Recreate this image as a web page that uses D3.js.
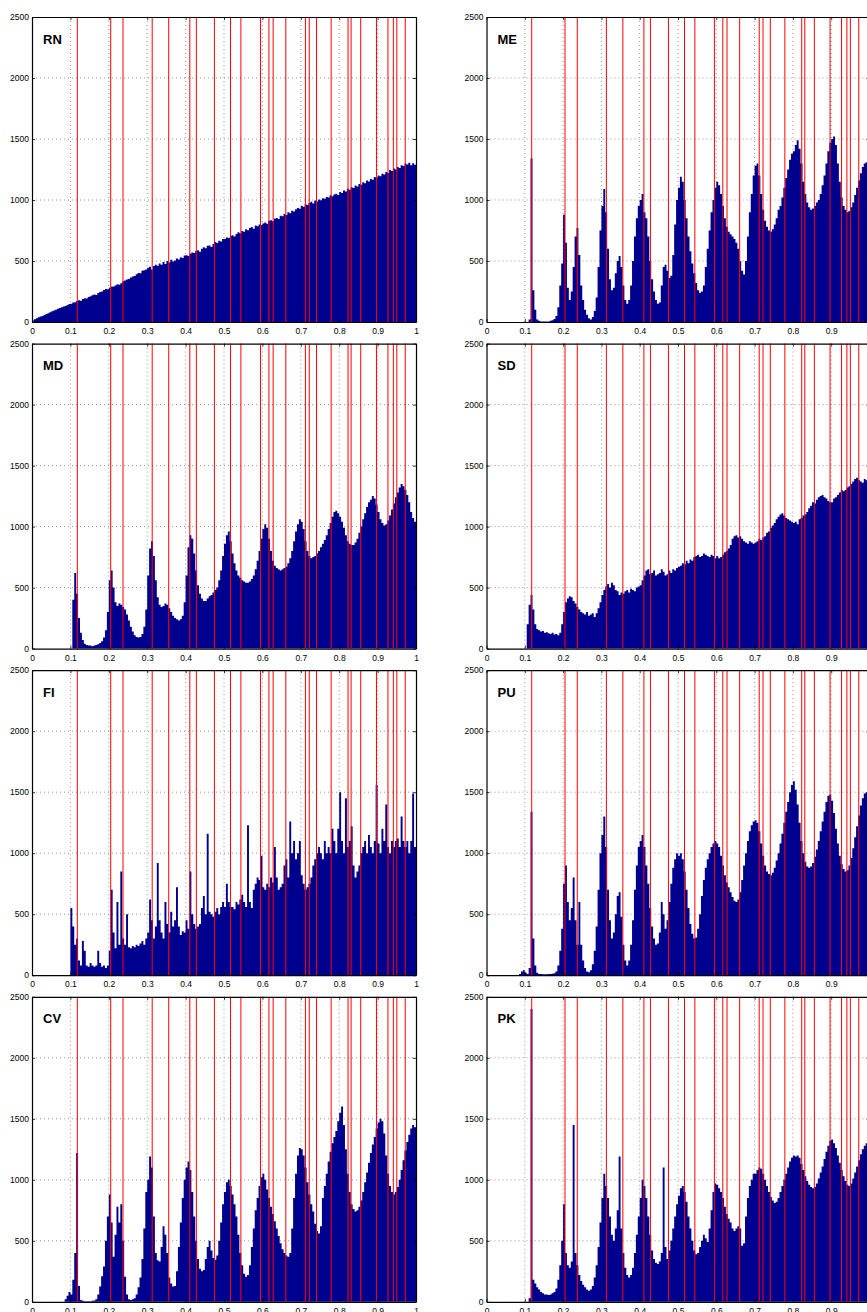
<!DOCTYPE html>
<html>
<head>
<meta charset="utf-8">
<script src="https://cdn.jsdelivr.net/npm/d3@7"></script>
<style>
  body { margin: 0; background: #fff; }
  svg { display: block; }
</style>
</head>
<body>
<div id="chart"></div>
<script>
// histogram bins: each count covers [i * binWidth, (i + 1) * binWidth), 20 bins per row below
const binWidth = 0.005;

const panelNames = ['RN', 'ME', 'MD', 'SD', 'FI', 'PU', 'CV', 'PK'];

// reference marks drawn in red on every panel
const redLines = [0.118, 0.205, 0.237, 0.313, 0.356, 0.411, 0.428, 0.475, 0.517, 0.544,
  0.595, 0.617, 0.628, 0.661, 0.712, 0.722, 0.741, 0.779, 0.823, 0.831,
  0.856, 0.897, 0.927, 0.941, 0.950, 0.972];

const xTicks = [0, 0.1, 0.2, 0.3, 0.4, 0.5, 0.6, 0.7, 0.8, 0.9, 1];
const yTicks = [0, 500, 1000, 1500, 2000, 2500];

const rnCounts = [
  12, 22, 30, 38, 45, 50, 58, 66, 72, 80, 88, 95, 100, 108, 115, 120, 128, 132, 140, 148,
  150, 160, 162, 172, 178, 175, 188, 195, 192, 205, 212, 220, 225, 222, 238, 245, 250, 262, 270, 268,
  280, 288, 292, 300, 310, 305, 318, 335, 340, 348, 352, 365, 372, 378, 392, 402, 400, 420, 425, 430,
  445, 452, 430, 458, 470, 462, 480, 470, 492, 475, 500, 488, 510, 495, 505, 520, 512, 530, 525, 545,
  548, 540, 560, 570, 565, 582, 588, 575, 600, 612, 605, 625, 628, 615, 640, 655, 648, 665, 660, 680,
  680, 692, 688, 705, 712, 700, 722, 735, 728, 745, 740, 760, 752, 770, 778, 765, 790, 784, 800, 795,
  808, 815, 805, 830, 835, 826, 848, 852, 845, 870, 866, 885, 878, 900, 892, 912, 905, 925, 935, 928,
  950, 945, 965, 958, 975, 985, 972, 995, 988, 1005, 998, 1015, 1010, 1025, 1020, 1038, 1030, 1045, 1052, 1040,
  1065, 1058, 1078, 1070, 1092, 1085, 1105, 1098, 1118, 1110, 1132, 1125, 1145, 1138, 1160, 1152, 1172, 1165, 1188, 1180,
  1200, 1195, 1215, 1208, 1230, 1222, 1245, 1238, 1258, 1250, 1270, 1262, 1285, 1278, 1300, 1292, 1305, 1285, 1302, 1288];

const meCounts = [
  0, 0, 0, 0, 0, 0, 0, 0, 0, 0, 0, 0, 0, 0, 0, 0, 0, 0, 0, 0,
  0, 0, 20, 1340, 260, 100, 20, 10, 5, 5, 5, 5, 5, 10, 15, 25, 50, 120, 300, 480,
  880, 650, 280, 180, 250, 450, 700, 770, 550, 300, 180, 100, 60, 30, 20, 40, 90, 200, 450, 750,
  950, 1090, 900, 600, 350, 260, 280, 400, 500, 540, 450, 300, 180, 150, 180, 300, 500, 700, 850, 950,
  1000, 1050, 900, 850, 700, 500, 350, 250, 180, 150, 160, 300, 450, 470, 420, 360, 380, 550, 800, 1000,
  1100, 1190, 1150, 1000, 850, 700, 580, 480, 400, 320, 260, 240, 250, 300, 450, 600, 750, 900, 1000, 1100,
  1150, 1120, 1050, 950, 850, 780, 740, 720, 700, 680, 650, 600, 500, 420, 390, 500, 700, 900, 1050, 1200,
  1280, 1300, 1200, 1050, 920, 830, 780, 750, 740, 760, 800, 850, 920, 950, 1020, 1100, 1180, 1250, 1330, 1380,
  1400, 1450, 1490, 1420, 1300, 1150, 1050, 980, 940, 920, 930, 950, 980, 1000, 1050, 1120, 1200, 1300, 1400, 1470,
  1500, 1520, 1450, 1300, 1150, 1020, 950, 920, 900, 910, 940, 980, 1040, 1100, 1160, 1220, 1270, 1300, 1310, 1290];

const mdCounts = [
  0, 0, 0, 0, 0, 0, 0, 0, 0, 0, 0, 0, 0, 0, 0, 0, 0, 0, 0, 0,
  0, 400, 620, 450, 250, 130, 70, 40, 30, 25, 25, 20, 25, 30, 35, 45, 60, 90, 150, 300,
  560, 640, 500, 380, 350, 370, 360, 340, 320, 280, 230, 180, 140, 110, 95, 90, 95, 120, 180, 320,
  600, 820, 880, 760, 560, 420, 360, 340, 350, 370, 360, 330, 300, 270, 250, 240, 230, 240, 270, 380,
  600, 830, 930, 900, 780, 640, 520, 450, 410, 390, 390, 410, 430, 440, 460, 480, 500, 560, 640, 760,
  860, 930, 960, 880, 780, 700, 640, 600, 580, 560, 550, 540, 540, 550, 570, 600, 650, 720, 800, 900,
  980, 1020, 990, 900, 800, 720, 680, 660, 650, 640, 650, 660, 670, 700, 740, 800, 880, 960, 1020, 1060,
  1040, 980, 880, 800, 760, 740, 750, 760, 780, 800, 830, 860, 890, 930, 980, 1030, 1080, 1120, 1130, 1110,
  1080, 1040, 990, 930, 880, 860, 850, 850, 870, 900, 950, 1000, 1060, 1110, 1160, 1200, 1220, 1250, 1230, 1180,
  1120, 1060, 1030, 1010, 1020, 1050, 1090, 1140, 1190, 1240, 1280, 1320, 1350, 1330, 1300, 1260, 1200, 1120, 1070, 1040];

const sdCounts = [
  0, 0, 0, 0, 0, 0, 0, 0, 0, 0, 0, 0, 0, 0, 0, 0, 0, 0, 0, 0,
  0, 200, 360, 440, 320, 200, 160, 150, 140, 145, 130, 135, 125, 120, 130, 115, 120, 110, 130, 200,
  300, 380, 410, 430, 420, 390, 370, 340, 320, 300, 290, 280, 300, 270, 280, 290, 260, 290, 330, 380,
  440, 480, 510, 530, 500, 540, 520, 480, 470, 440, 460, 450, 470, 480, 460, 490, 480, 470, 500, 510,
  520, 560, 600, 640, 650, 610, 620, 640, 600, 610, 620, 650, 630, 600, 610, 640, 620, 650, 640, 660,
  670, 680, 700, 690, 720, 700, 730, 720, 750, 760, 770, 750, 760, 780, 770, 760, 750, 770, 760, 740,
  760, 740, 750, 770, 790, 800, 820, 850, 900, 920, 930, 910, 920, 900, 880, 870, 860, 880, 870, 860,
  870, 880, 900, 890, 910, 920, 950, 960, 990, 1010, 1030, 1060, 1080, 1100, 1110, 1090, 1070, 1060, 1050, 1040,
  1030, 1040, 1020, 1060, 1070, 1090, 1100, 1120, 1150, 1170, 1200, 1190, 1220, 1240, 1250, 1260, 1240, 1230, 1210, 1200,
  1200, 1230, 1240, 1260, 1280, 1300, 1290, 1300, 1320, 1330, 1350, 1370, 1390, 1400, 1380, 1370, 1360, 1390, 1380, 1400];

const fiCounts = [
  0, 0, 0, 0, 0, 0, 0, 0, 0, 0, 0, 0, 0, 0, 0, 0, 0, 0, 0, 0,
  550, 400, 250, 300, 120, 80, 280, 200, 80, 70, 100, 80, 70, 80, 200, 100, 70, 80, 60, 80,
  200, 700, 350, 220, 600, 250, 850, 300, 250, 500, 230, 220, 240, 230, 250, 240, 260, 280, 250, 300,
  350, 620, 450, 300, 400, 920, 450, 350, 300, 600, 420, 350, 520, 400, 450, 720, 400, 330, 360, 350,
  450, 380, 850, 500, 420, 380, 400, 420, 550, 650, 500, 1160, 520, 500, 480, 520, 550, 500, 560, 600,
  560, 750, 600, 560, 560, 540, 600, 580, 620, 660, 600, 560, 1230, 600, 550, 700, 750, 800, 780, 980,
  720, 700, 750, 720, 800, 760, 1050, 800, 700, 720, 750, 900, 950, 800, 1260, 1000, 1100, 950, 1000, 1100,
  820, 750, 700, 720, 750, 800, 900, 950, 1000, 1050, 1000, 950, 1100, 1000, 1050, 1000, 1200, 1100, 1000, 1200,
  1500, 1100, 1000, 1450, 1050, 1100, 1220, 900, 800, 850, 900, 1000, 1050, 1100, 1000, 1150, 1050, 1000, 1100, 1560,
  1080, 1000, 1200, 1100, 1400, 1050, 1000, 1100, 1050, 1100, 1120, 1050, 1300, 1100, 1050, 1100, 1000, 1100, 1490, 1050];

const puCounts = [
  0, 0, 0, 0, 0, 0, 0, 0, 0, 0, 0, 0, 0, 0, 0, 0, 0, 10, 30, 40,
  20, 10, 60, 1340, 300, 80, 20, 10, 10, 8, 8, 8, 10, 10, 12, 15, 30, 80, 200, 380,
  750, 900, 600, 450, 550, 800, 450, 250, 600, 250, 120, 60, 30, 25, 40, 90, 200, 400, 700, 1000,
  1150, 1300, 1050, 700, 450, 300, 350, 500, 650, 680, 480, 250, 120, 80, 120, 250, 450, 700, 900, 1050,
  1100, 1150, 1050, 900, 750, 550, 400, 300, 250, 260, 350, 600, 500, 380, 450, 600, 750, 880, 950, 1000,
  980, 1000, 950, 850, 700, 550, 420, 340, 300, 310, 380, 500, 650, 780, 880, 950, 1000, 1050, 1080, 1100,
  1080, 1050, 980, 900, 820, 760, 720, 680, 640, 610, 600, 620, 680, 780, 900, 1000, 1100, 1180, 1230, 1260,
  1270, 1250, 1180, 1080, 980, 900, 850, 830, 820, 840, 880, 940, 1000, 1080, 1160, 1250, 1340, 1420, 1500, 1560,
  1590, 1520, 1400, 1250, 1100, 1000, 930, 890, 880, 890, 920, 970, 1030, 1100, 1180, 1260, 1340, 1420, 1470, 1480,
  1430, 1330, 1200, 1080, 980, 910, 870, 850, 860, 900, 960, 1040, 1130, 1220, 1310, 1390, 1450, 1490, 1500, 1500];

const cvCounts = [
  0, 0, 0, 0, 0, 0, 0, 0, 0, 0, 0, 0, 0, 0, 0, 0, 0, 20, 50, 80,
  60, 180, 400, 1220, 130, 15, 8, 5, 5, 5, 5, 8, 10, 20, 60, 125, 210, 290, 500, 700,
  880, 650, 370, 550, 780, 650, 800, 500, 205, 60, 20, 15, 20, 30, 60, 120, 200, 350, 600, 900,
  1000, 1190, 1100, 700, 400, 340, 330, 450, 620, 550, 400, 200, 150, 125, 130, 250, 450, 650, 850, 1000,
  1100, 1150, 1080, 900, 700, 500, 350, 270, 250, 260, 350, 450, 500, 420, 360, 345, 380, 500, 650, 800,
  900, 980, 1000, 950, 880, 800, 700, 550, 400, 300, 230, 205, 220, 300, 450, 600, 750, 850, 950, 1020,
  1050, 1000, 920, 850, 780, 720, 660, 600, 540, 480, 430, 400, 380, 370, 400, 600, 850, 1050, 1200, 1260,
  1250, 1200, 1100, 980, 880, 800, 740, 640, 580, 560, 620, 850, 950, 1050, 1150, 1230, 1300, 1350, 1400, 1480,
  1550, 1600, 1450, 1250, 1050, 900, 800, 760, 740, 750, 780, 830, 900, 980, 1060, 1140, 1220, 1290, 1350, 1420,
  1470, 1500, 1480, 1380, 1200, 1050, 950, 900, 880, 900, 940, 1000, 1080, 1160, 1240, 1310, 1370, 1420, 1450, 1430];

const pkCounts = [
  0, 0, 0, 0, 0, 0, 0, 0, 0, 0, 0, 0, 0, 0, 0, 0, 0, 0, 0, 0,
  0, 0, 30, 2400, 180, 150, 120, 100, 80, 70, 60, 60, 55, 60, 70, 80, 110, 180, 300, 500,
  800, 400, 300, 280, 330, 1450, 400, 300, 220, 170, 140, 120, 100, 90, 100, 130, 200, 300, 450, 650,
  850, 1050, 950, 850, 700, 550, 500, 600, 750, 1190, 600, 400, 280, 220, 200, 220, 280, 400, 550, 700,
  850, 1000, 950, 850, 700, 550, 420, 350, 320, 310, 330, 400, 1100, 450, 350, 420, 500, 600, 700, 800,
  870, 930, 950, 900, 820, 700, 600, 500, 420, 390, 400, 450, 500, 550, 520, 490, 600, 750, 900, 970,
  960, 930, 900, 850, 780, 720, 680, 650, 600, 580, 600, 620, 600, 460, 480, 700, 850, 950, 1000, 1050,
  1050, 1080, 1100, 1090, 1050, 1000, 950, 900, 860, 830, 810, 820, 850, 900, 950, 1000, 1050, 1100, 1150, 1180,
  1200, 1190, 1200, 1180, 1130, 1080, 1030, 990, 960, 940, 930, 940, 970, 1010, 1060, 1110, 1170, 1230, 1280, 1320,
  1330, 1300, 1260, 1200, 1140, 1080, 1030, 990, 960, 950, 970, 1010, 1060, 1110, 1160, 1210, 1250, 1280, 1300, 1290];

const allCounts = [rnCounts, meCounts, mdCounts, sdCounts, fiCounts, puCounts, cvCounts, pkCounts];

// page and panel layout
const width = 867;
const height = 1312;
const colRange = [[32, 416], [486.5, 869.5]];
const rowTop = 17;
const rowStep = 326.6;
const panelHeight = 305;

const barColor = '#00008f';
const fontFamily = '"Liberation Sans", Arial, Helvetica, sans-serif';

const svg = d3.select('#chart')
  .append('svg')
  .attr('width', width)
  .attr('height', height)
  .attr('xmlns', 'http://www.w3.org/2000/svg');

const drawPanel = (name, counts, idx) => {
  const col = idx % 2;
  const row = Math.floor(idx / 2);
  const top = rowTop + row * rowStep;
  const bottom = top + panelHeight;
  const [left, right] = colRange[col];

  const x = d3.scaleLinear().domain([0, 1]).range([left, right]);
  const y = d3.scaleLinear().domain([0, 2500]).range([bottom, top]);

  const g = svg.append('g').attr('class', `panel panel-${name}`);

  // dotted grid, under the bars
  g.append('g')
    .selectAll('line')
    .data(xTicks.filter(t => t > 0 && t < 1))
    .join('line')
    .attr('x1', d => x(d)).attr('x2', d => x(d))
    .attr('y1', top).attr('y2', bottom)
    .attr('stroke', '#7a7a7a')
    .attr('stroke-width', 0.8)
    .attr('stroke-dasharray', '1,3');

  g.append('g')
    .selectAll('line')
    .data(yTicks.filter(t => t > 0 && t < 2500))
    .join('line')
    .attr('x1', left).attr('x2', right)
    .attr('y1', d => y(d)).attr('y2', d => y(d))
    .attr('stroke', '#7a7a7a')
    .attr('stroke-width', 0.8)
    .attr('stroke-dasharray', '1,3');

  // histogram as a stepped area
  const steps = counts.map((c, i) => ({ x: i * binWidth, v: c }));
  steps.push({ x: counts.length * binWidth, v: counts[counts.length - 1] });

  const area = d3.area()
    .x(d => x(d.x))
    .y0(y(0))
    .y1(d => y(d.v))
    .curve(d3.curveStepAfter);

  g.append('path')
    .datum(steps)
    .attr('d', area)
    .attr('fill', barColor);

  // red marker lines
  g.append('g')
    .selectAll('line')
    .data(redLines)
    .join('line')
    .attr('x1', d => x(d)).attr('x2', d => x(d))
    .attr('y1', top).attr('y2', bottom)
    .attr('stroke', '#ff0000')
    .attr('stroke-width', 1);

  // axes, ticks pointing inwards like matlab
  const styleAxis = sel => {
    sel.selectAll('path').attr('stroke', '#000').attr('stroke-width', 1.2);
    sel.selectAll('line').attr('stroke', '#000').attr('stroke-width', 0.8);
    sel.selectAll('text')
      .attr('fill', '#000')
      .style('font-family', fontFamily)
      .style('font-size', '8.5px');
  };

  // the right column is cut by the page edge, so its last label is off the page
  const xLabelTicks = col === 1 ? xTicks.filter(t => t < 1) : xTicks;

  g.append('g')
    .attr('transform', `translate(0,${bottom})`)
    .call(d3.axisBottom(x).tickValues(xTicks).tickSizeInner(-3).tickSizeOuter(0).tickPadding(6)
      .tickFormat(d => (xLabelTicks.includes(d) ? String(+d.toFixed(1)) : '')))
    .call(styleAxis);

  g.append('g')
    .attr('transform', `translate(0,${top})`)
    .call(d3.axisTop(x).tickValues(xTicks).tickSizeInner(-3).tickSizeOuter(0))
    .call(styleAxis)
    .selectAll('text').remove();

  g.append('g')
    .attr('transform', `translate(${left},0)`)
    .call(d3.axisLeft(y).tickValues(yTicks).tickSizeInner(-3).tickSizeOuter(0).tickPadding(3)
      .tickFormat(d3.format('d')))
    .call(styleAxis);

  g.append('g')
    .attr('transform', `translate(${right},0)`)
    .call(d3.axisRight(y).tickValues(yTicks).tickSizeInner(-3).tickSizeOuter(0))
    .call(styleAxis)
    .selectAll('text').remove();

  g.selectAll('text').filter(function () { return this.textContent === ''; }).remove();

  // panel label
  g.append('text')
    .attr('x', left + 11)
    .attr('y', top + 26.5)
    .attr('fill', '#000')
    .style('font-family', fontFamily)
    .style('font-size', '13px')
    .style('font-weight', 'bold')
    .text(name);
};

panelNames.forEach((name, i) => drawPanel(name, allCounts[i], i));
</script>
</body>
</html>
